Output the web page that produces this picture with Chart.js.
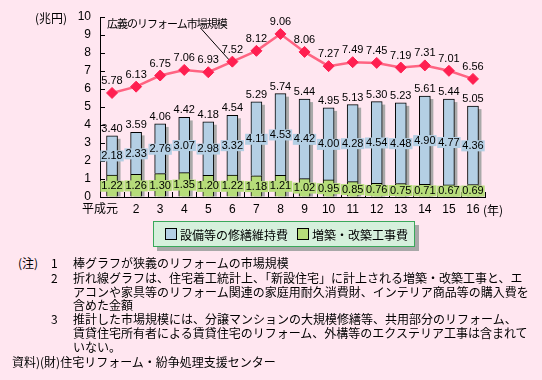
<!DOCTYPE html>
<html lang="ja">
<head>
<meta charset="utf-8">
<script src="https://cdn.jsdelivr.net/npm/chart.js@4.4.1/dist/chart.umd.min.js"></script>
<style>
  html, body { margin:0; padding:0; }
  body { width:542px; height:380px; background:#ffe6f0; position:relative; overflow:hidden;
         font-family:"Noto Sans CJK JP", sans-serif; color:#000; }
  #c { position:absolute; left:0; top:0; }
  .abs { position:absolute; white-space:nowrap; }
  #unit { left:35px; top:9px; font-size:12px; }
  #nen { left:483px; top:201px; font-size:12px; }
  #anno { left:107px; top:15px; font-size:11px; letter-spacing:-1px; }
  #legend { left:153px; top:221px; width:262px; height:26px; box-sizing:border-box;
            background:#d6f0dc; border:1px solid #3aa85a; box-shadow:4px 4px 0 #a8a8a8;
            display:flex; align-items:center; padding-left:11px; font-size:12px; }
  .item { display:flex; align-items:center; margin-right:9px; }
  .sw { width:10px; height:10px; border:1px solid #000; margin-right:3px; }
  #notes { font-size:12px; line-height:14.2px; }
  .nl { position:absolute; white-space:nowrap; }
</style>
</head>
<body>
<canvas id="c" width="542" height="222"></canvas>
<div class="abs" id="unit">(兆円)</div>
<div class="abs" id="nen">(年)</div>
<div class="abs" id="anno">広義のリフォーム市場規模</div>
<div class="abs" id="legend"></div>
<div id="notes">
  <div class="nl" style="left:18px;top:256px">(注)</div>
  <div class="nl" style="left:51px;top:256px">1</div>
  <div class="nl" style="left:73px;top:256px">棒グラフが狭義のリフォームの市場規模</div>
  <div class="nl" style="left:51px;top:271px">2</div>
  <div class="nl" style="left:73px;top:271px">折れ線グラフは、住宅着工統計上、「新設住宅」に計上される増築・改築工事と、エ</div>
  <div class="nl" style="left:73px;top:285px">アコンや家具等のリフォーム関連の家庭用耐久消費財、インテリア商品等の購入費を</div>
  <div class="nl" style="left:73px;top:298px">含めた金額</div>
  <div class="nl" style="left:51px;top:312px">3</div>
  <div class="nl" style="left:73px;top:312px">推計した市場規模には、分譲マンションの大規模修繕等、共用部分のリフォーム、</div>
  <div class="nl" style="left:73px;top:326px">賃貸住宅所有者による賃貸住宅のリフォーム、外構等のエクステリア工事は含まれて</div>
  <div class="nl" style="left:73px;top:340px">いない。</div>
  <div class="nl" style="left:12px;top:355px">資料)(財)住宅リフォーム・紛争処理支援センター</div>
</div>
<script>
// ---- data (兆円) ----
const years = ['平成元','2','3','4','5','6','7','8','9','10','11','12','13','14','15','16'];
const extensionCost = [1.22,1.26,1.30,1.35,1.20,1.22,1.18,1.21,1.02,0.95,0.85,0.76,0.75,0.71,0.67,0.69];   // 増築・改築工事費
const maintenanceCost = [2.18,2.33,2.76,3.07,2.98,3.32,4.11,4.53,4.42,4.00,4.28,4.54,4.48,4.90,4.77,4.36]; // 設備等の修繕維持費
const narrowTotal = [3.40,3.59,4.06,4.42,4.18,4.54,5.29,5.74,5.44,4.95,5.13,5.30,5.23,5.61,5.44,5.05];     // 狭義の市場規模
const broadMarket = [5.78,6.13,6.75,7.06,6.93,7.52,8.12,9.06,8.06,7.27,7.49,7.45,7.19,7.31,7.01,6.56];    // 広義のリフォーム市場規模
const yTicks = [0,1,2,3,4,5,6,7,8,9,10];
const seriesNames = ['設備等の修繕維持費','増築・改築工事費'];

const BLUE = '#b4cfe4', GREEN = '#b6dc7a', LINE = '#ff6482', MARK = '#ff1f50';

// HTML legend
const legendEl = document.getElementById('legend');
[[seriesNames[0], BLUE],[seriesNames[1], GREEN]].forEach(([name,col])=>{
  const it = document.createElement('div'); it.className='item';
  const sw = document.createElement('div'); sw.className='sw'; sw.style.background=col;
  const tx = document.createElement('span'); tx.textContent=name;
  it.appendChild(sw); it.appendChild(tx); legendEl.appendChild(it);
});

const NUMFONT = '11px "Liberation Sans", Arial, sans-serif';

const decor = {
  id:'decor',
  beforeDatasetsDraw(chart){
    const ctx = chart.ctx;
    const gMeta = chart.getDatasetMeta(0), bMeta = chart.getDatasetMeta(1);
    ctx.save();
    ctx.fillStyle = '#a9a9a9';
    bMeta.data.forEach((el,i)=>{
      const g = gMeta.data[i];
      const w = el.width;
      ctx.fillRect(el.x - w/2 + 3, el.y + 3, w, g.base - el.y - 3);
    });
    // leader line for annotation
    const lMeta = chart.getDatasetMeta(2);
    const p = lMeta.data[5];
    ctx.strokeStyle = '#000'; ctx.lineWidth = 1;
    ctx.beginPath(); ctx.moveTo(200.5, 28); ctx.lineTo(p.x + 1, p.y + 3); ctx.stroke();
    ctx.restore();
  },
  afterDraw(chart){
    const ctx = chart.ctx, ca = chart.chartArea;
    const xs = chart.scales.x, ys = chart.scales.y;
    ctx.save();
    // inward ticks
    ctx.strokeStyle = '#000'; ctx.lineWidth = 1;
    ys.ticks.forEach(t=>{
      const y = Math.round(ys.getPixelForValue(t.value)) + 0.5;
      ctx.beginPath(); ctx.moveTo(ca.left, y); ctx.lineTo(ca.left + 5, y); ctx.stroke();
    });
    const step = xs.getPixelForValue(1) - xs.getPixelForValue(0);
    for (let i=0;i<years.length;i++){
      const x = Math.round(xs.getPixelForValue(i) + step/2) + 0.5;
      ctx.beginPath(); ctx.moveTo(x, ca.bottom); ctx.lineTo(x, ca.bottom - 5); ctx.stroke();
    }
    // labels
    ctx.font = NUMFONT; ctx.textAlign='center'; ctx.textBaseline='middle';
    const gMeta = chart.getDatasetMeta(0), bMeta = chart.getDatasetMeta(1), lMeta = chart.getDatasetMeta(2);
    const inside = (meta, vals, col) => {
      meta.data.forEach((el,i)=>{
        const txt = vals[i].toFixed(2);
        const y = (el.y + el.base)/2;
        const w = ctx.measureText(txt).width;
        ctx.fillStyle = col; ctx.fillRect(el.x - w/2 - 1, y - 5, w + 2, 11);
        ctx.fillStyle = '#000'; ctx.fillText(txt, el.x, y + 0.5);
      });
    };
    inside(gMeta, extensionCost, GREEN);
    inside(bMeta, maintenanceCost, BLUE);
    ctx.fillStyle = '#000';
    bMeta.data.forEach((el,i)=>{ ctx.fillText(narrowTotal[i].toFixed(2), el.x, el.y - 7); });
    lMeta.data.forEach((el,i)=>{ ctx.fillText(broadMarket[i].toFixed(2), el.x, el.y - 12); });
    ctx.restore();
  }
};

new Chart(document.getElementById('c'), {
  data: {
    labels: years.map((y,i)=> i===0 ? y + '　　' : y),
    datasets: [
      { type:'bar', label:seriesNames[1], data:extensionCost, backgroundColor:GREEN,
        borderColor:'#000', borderWidth:1, stack:'bars', order:1, barThickness:11 },
      { type:'bar', label:seriesNames[0], data:maintenanceCost, backgroundColor:BLUE,
        borderColor:'#000', borderWidth:1, stack:'bars', order:1, barThickness:11 },
      { type:'line', label:'広義のリフォーム市場規模', data:broadMarket, borderColor:LINE, borderWidth:2.5,
        pointStyle:'rectRot', pointRadius:5.5, pointBackgroundColor:MARK, pointBorderColor:MARK,
        pointBorderWidth:1, tension:0, stack:'line', order:0 }
    ]
  },
  options: {
    responsive:false, animation:false, devicePixelRatio:1,
    layout:{ padding:{ top:17, right:57, left:0, bottom:0 } },
    plugins:{ legend:{display:false}, tooltip:{enabled:false} },
    scales:{
      x:{ stacked:true, offset:true,
          grid:{ display:true, drawOnChartArea:false, drawTicks:false },
          border:{ color:'#000', width:1 },
          ticks:{ color:'#000', padding:5, maxRotation:0, autoSkip:false,
                  font:{ size:12, family:'"Liberation Sans", "Noto Sans CJK JP", sans-serif' } },
          afterFit(s){ s.height = 25; } },
      y:{ stacked:true, min:0, max:10,
          afterBuildTicks(s){ s.ticks = yTicks.map(v=>({value:v})); },
          grid:{ display:true, drawOnChartArea:false, drawTicks:false },
          border:{ color:'#000', width:1 },
          ticks:{ color:'#000', padding:9, font:{ size:12, family:'"Liberation Sans", sans-serif' } },
          afterFit(s){ s.width = 100; } }
    }
  },
  plugins:[decor]
});
</script>
</body>
</html>
